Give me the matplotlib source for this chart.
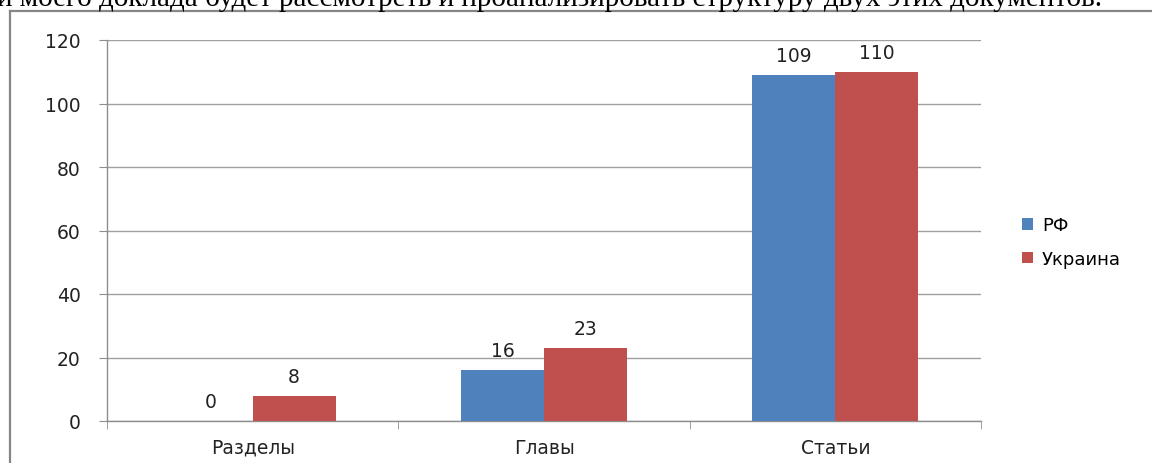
import numpy as np
import matplotlib.pyplot as plt
from matplotlib.lines import Line2D
from matplotlib.patches import Patch

categories = ['Разделы', 'Главы', 'Статьи']
series_names = ['РФ', 'Украина']
rf_values = [0, 16, 109]
ua_values = [8, 23, 110]
y_ticks = [0, 20, 40, 60, 80, 100, 120]
colors = ['#4F81BD', '#C0504D']
header_text = 'и моего доклада будет рассмотреть и проанализировать структуру двух этих документов.'

W, H = 1152, 464
fig = plt.figure(figsize=(W / 100, H / 100), dpi=100)
fig.patch.set_facecolor('white')

# page text cut at the top (as in the scan)
fig.text(-3 / W, 1 - 6 / H, header_text, family='Liberation Serif', fontsize=21,
         ha='left', va='baseline', color='black')

# chart frame (only top and left edges visible)
frame_col = '#868686'
fig.add_artist(Line2D([9.5 / W, 9.5 / W], [0, 1 - 12 / H], transform=fig.transFigure,
                      color=frame_col, lw=1.6))
fig.add_artist(Line2D([9.5 / W, 1], [1 - 12 / H, 1 - 12 / H], transform=fig.transFigure,
                      color=frame_col, lw=1.6))

ax = fig.add_axes([107 / W, 1 - 422 / H, (981 - 107) / W, (422 - 41) / H])
x = np.arange(len(categories))
bw = 0.285
for i, (vals, col) in enumerate(zip([rf_values, ua_values], colors)):
    pos = x + (i - 0.5) * bw
    ax.bar(pos, vals, width=bw, color=col, zorder=3)
    for p, v in zip(pos, vals):
        ax.annotate(str(v), (p, v), xytext=(0, 7), textcoords='offset points',
                    ha='center', va='bottom', fontsize=13.5, color='#222222')

ax.set_xlim(-0.5, len(categories) - 0.5)
ax.set_ylim(0, 120)
ax.set_yticks(y_ticks)
ax.yaxis.grid(True, color='#a0a0a0', lw=1, zorder=0)
ax.set_axisbelow(True)

ax.set_xticks(x)
ax.set_xticklabels(categories, fontsize=13.5, color='#222222')
ax.set_xticks(np.arange(len(categories) + 1) - 0.5, minor=True)
ax.tick_params(axis='x', which='major', length=0, pad=12)
ax.tick_params(axis='x', which='minor', length=6, color='#8e8e8e', direction='out')
ax.tick_params(axis='y', length=6, color='#8e8e8e', labelsize=13.5, labelcolor='#222222', pad=13)

for s in ['top', 'right']:
    ax.spines[s].set_visible(False)
for s in ['left', 'bottom']:
    ax.spines[s].set_color('#8e8e8e')
    ax.spines[s].set_linewidth(1)

handles = [Patch(facecolor=c, edgecolor='none') for c in colors]
fig.legend(handles, series_names, loc='upper left',
           bbox_to_anchor=(1006 / W, 1 - 201 / H), frameon=False, fontsize=13,
           handlelength=0.6, handleheight=0.6, handletextpad=0.5, labelspacing=0.85)

fig.savefig('out.png', dpi=100)
